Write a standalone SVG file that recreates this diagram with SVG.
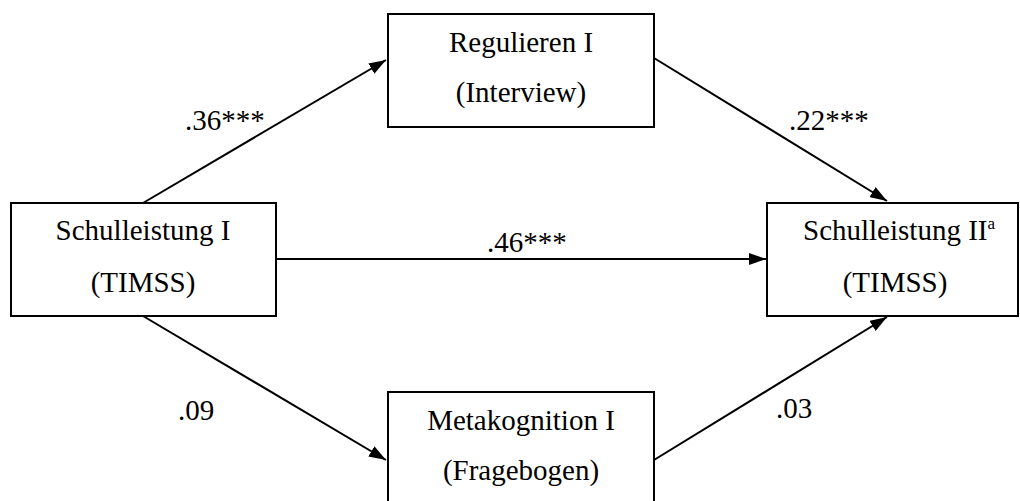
<svg xmlns="http://www.w3.org/2000/svg" width="1020" height="501" viewBox="0 0 1020 501">
<style>
  .box { fill: #ffffff; stroke: #000000; stroke-width: 2; }
  .t { font-family: 'Liberation Serif', 'Times New Roman', Times, 'DejaVu Serif', serif; font-size: 29px; fill: #000000; }
  .c { text-anchor: middle; }
  .edge { stroke: #000000; stroke-width: 2; fill: none; marker-end: url(#arr); }
</style>
<defs>
  <marker id="arr" markerUnits="userSpaceOnUse" markerWidth="17" markerHeight="12" refX="17" refY="6" orient="auto">
    <path d="M0,0 L17,6 L0,12 z" fill="#000000"/>
  </marker>
</defs>
<rect width="1020" height="501" fill="#ffffff"/>
<g id="connectors">
  <line class="edge" x1="143" y1="203" x2="386" y2="60"/>
  <line class="edge" x1="654" y1="58" x2="887" y2="201"/>
  <line class="edge" x1="276" y1="259" x2="766" y2="259"/>
  <line class="edge" x1="143" y1="316" x2="386" y2="460"/>
  <line class="edge" x1="654" y1="460" x2="887" y2="317"/>
</g>
<g id="labels">
  <text class="t" x="185" y="130">.36***</text>
  <text class="t" x="789" y="130">.22***</text>
  <text class="t" x="487" y="252">.46***</text>
  <text class="t" x="178" y="420">.09</text>
  <text class="t" x="776" y="418">.03</text>
</g>
<g id="node-regulieren">
  <rect class="box" x="388" y="14" width="266" height="113"/>
  <text class="t c" x="521" y="52">Regulieren I</text>
  <text class="t c" x="521" y="102">(Interview)</text>
</g>
<g id="node-schulleistung1">
  <rect class="box" x="11" y="203" width="265" height="113"/>
  <text class="t c" x="143" y="240">Schulleistung I</text>
  <text class="t c" x="143" y="292">(TIMSS)</text>
</g>
<g id="node-schulleistung2">
  <rect class="box" x="767" y="203" width="251" height="113"/>
  <text class="t" x="803" y="240">Schulleistung II<tspan font-size="17" dy="-11">a</tspan></text>
  <text class="t c" x="895" y="292">(TIMSS)</text>
</g>
<g id="node-metakognition">
  <rect class="box" x="388" y="392" width="266" height="120"/>
  <text class="t c" x="521" y="430">Metakognition I</text>
  <text class="t c" x="521" y="480">(Fragebogen)</text>
</g>
</svg>
